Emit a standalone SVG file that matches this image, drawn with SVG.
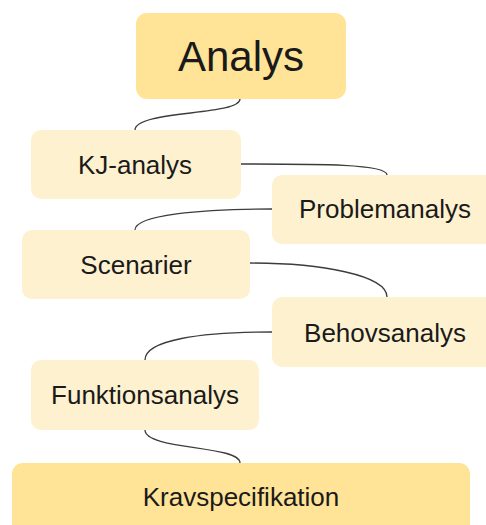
<svg xmlns="http://www.w3.org/2000/svg" width="486" height="525" viewBox="0 0 486 525">
  <style>
    .main { fill: #FFE396; }
    .sub { fill: #FEF1CF; }
    .lbl { font-family: "Liberation Sans", Arial, sans-serif; fill: #1a1a1a; text-anchor: middle; font-size: 26px; }
    .link { fill: none; stroke: #3c3c3c; stroke-width: 1.3; }
  </style>
  <rect width="486" height="525" fill="#ffffff"/>

  <g id="connectors">
    <path class="link" d="M240,99 C240,116 135,110 135,130"/>
    <path class="link" d="M241,164 C320,164 387,164 387,175"/>
    <path class="link" d="M272,209 C200,209 135,215 135,230"/>
    <path class="link" d="M250,263 C320,263 387,275 387,297"/>
    <path class="link" d="M272,332 C200,332 145,340 145,360"/>
    <path class="link" d="M145,430 C145,450 240,445 240,463"/>
  </g>

  <g id="analys">
    <rect class="main" x="136" y="13" width="210" height="86" rx="11"/>
    <text class="lbl" x="241" y="71" style="font-size:42px">Analys</text>
  </g>
  <g id="kj-analys">
    <rect class="sub" x="31" y="130" width="210" height="69" rx="10"/>
    <text class="lbl" x="135" y="174">KJ-analys</text>
  </g>
  <g id="problemanalys">
    <rect class="sub" x="272" y="175" width="224" height="69" rx="10"/>
    <text class="lbl" x="385" y="218">Problemanalys</text>
  </g>
  <g id="scenarier">
    <rect class="sub" x="22" y="230" width="228" height="69" rx="10"/>
    <text class="lbl" x="136" y="274">Scenarier</text>
  </g>
  <g id="behovsanalys">
    <rect class="sub" x="272" y="297" width="224" height="70" rx="10"/>
    <text class="lbl" x="385" y="342">Behovsanalys</text>
  </g>
  <g id="funktionsanalys">
    <rect class="sub" x="31" y="360" width="228" height="70" rx="10"/>
    <text class="lbl" x="145" y="404">Funktionsanalys</text>
  </g>
  <g id="kravspecifikation">
    <rect class="main" x="12" y="463" width="458" height="80" rx="11"/>
    <text class="lbl" x="241" y="506">Kravspecifikation</text>
  </g>
</svg>
